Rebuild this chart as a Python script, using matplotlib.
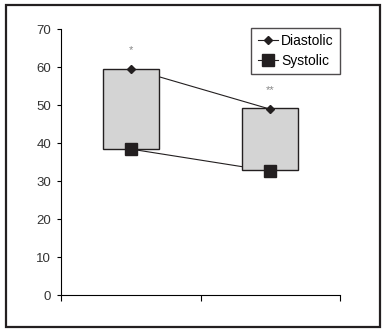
import matplotlib.pyplot as plt
from matplotlib.patches import Rectangle

# Valores.
categories = [0.5, 1.5]
diastolic = [59.6, 48.9]
systolic = [38.4, 32.6]
box_top = [59.5, 49.1]
box_bottom = [38.3, 32.8]
stars = ['*', '**']
star_y = [64.5, 53.8]
yticks = [0, 10, 20, 30, 40, 50, 60, 70]

plt.rcParams['font.family'] = ['Liberation Sans Narrow', 'Liberation Sans', 'DejaVu Sans']

fig = plt.figure(figsize=(3.86, 3.32), dpi=100)
fig.patches.append(Rectangle((6 / 386, 5 / 332), 374 / 386, 322 / 332,
                             transform=fig.transFigure, fill=False,
                             edgecolor='#231f20', linewidth=1.6))

ax = fig.add_axes([61 / 386, 1 - 295 / 332, 279 / 386, 266 / 332])

# Linhas por tras das caixas.
ax.plot(categories, diastolic, color='#231f20', linewidth=0.8, zorder=1)
ax.plot(categories, systolic, color='#231f20', linewidth=0.8, zorder=1)

heights = [t - b for t, b in zip(box_top, box_bottom)]
ax.bar(categories, heights, bottom=box_bottom, width=0.4, color='#d4d4d4',
       edgecolor='#231f20', linewidth=1.0, zorder=2)

ax.plot(categories, diastolic, linestyle='none', marker='D', markersize=4,
        color='#231f20', zorder=3)
ax.plot(categories, systolic, linestyle='none', marker='s', markersize=8,
        color='#231f20', zorder=3)

for x, y, s in zip(categories, star_y, stars):
    ax.text(x, y, s, ha='center', va='center', fontsize=8, color='#888888')

# Legenda manual (linha + marcador).
ax.plot([], [], color='#231f20', linewidth=0.8, marker='D', markersize=4, label='Diastolic')
ax.plot([], [], color='#231f20', linewidth=0.8, marker='s', markersize=8, label='Systolic')
leg = ax.legend(loc='upper right', bbox_to_anchor=(1.0, 1.005), borderaxespad=0,
                fontsize=10, frameon=True, fancybox=False, handlelength=1.5,
                handletextpad=0.2, borderpad=0.45, labelspacing=0.45)
leg.get_frame().set_edgecolor('#231f20')
leg.get_frame().set_linewidth(1.0)

ax.set_xlim(0, 2)
ax.set_ylim(0, 70)
ax.set_xticks([0, 1, 2])
ax.set_xticklabels([])
ax.set_yticks(yticks)
ax.tick_params(axis='y', length=3, labelsize=9.5, labelcolor='#333333', pad=4)
ax.tick_params(axis='x', length=4)
ax.spines['top'].set_visible(False)
ax.spines['right'].set_visible(False)

fig.savefig('out.png', dpi=100)
